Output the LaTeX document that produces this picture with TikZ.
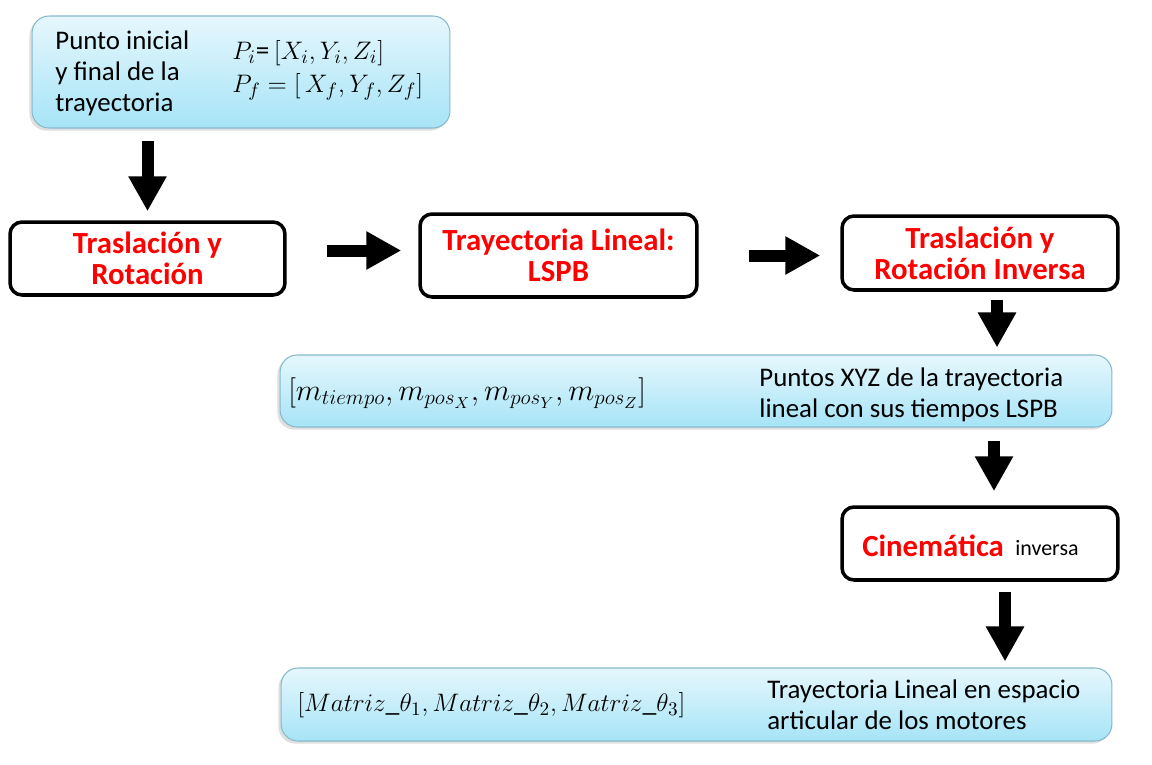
\documentclass[tikz,border=0pt]{standalone}
\usepackage{amsmath}
\usepackage{fontspec}
\setmainfont{Carlito}
\usetikzlibrary{arrows.meta,shadows,calc}

\definecolor{celeste}{HTML}{A6E4F7}
\definecolor{celesteclaro}{HTML}{E6F7FD}
\definecolor{bordeceleste}{HTML}{86B9CC}
\definecolor{rojo}{HTML}{FF0000}

\begin{document}
\begin{tikzpicture}[x=0.02cm,y=-0.02cm,
    datos/.style={rounded corners=0.34cm, draw=bordeceleste, line width=0.6pt,
        top color=celesteclaro, bottom color=celeste,
        drop shadow={shadow xshift=-1.5pt, shadow yshift=-1.5pt, opacity=0.25},
        inner sep=0pt},
    bloque/.style={rounded corners=0.24cm, draw=black, line width=2pt, fill=white,
        drop shadow={shadow xshift=1pt, shadow yshift=-1pt, opacity=0.15},
        inner sep=0pt},
    titulo/.style={text=rojo, font=\fontsize{17.5}{17.8}\selectfont\bfseries, align=center},
    texto/.style={font=\fontsize{15.3}{17.6}\selectfont, align=left, inner sep=0pt},
    formula/.style={font=\fontsize{15.5}{17.6}\selectfont, inner sep=0pt},
    flecha/.style={line width=0.24cm, -{Triangle[length=0.7cm,width=0.72cm]}}]

\useasboundingbox (0,0) rectangle (1152,764);

% Boxes
\node[datos, minimum width=8.36cm, minimum height=2.24cm] (inicio) at (241,72) {};
\node[bloque, minimum width=5.5cm, minimum height=1.46cm] (tras) at (147.5,258.5) {};
\node[bloque, minimum width=5.54cm, minimum height=1.66cm] (lineal) at (558.5,255.5) {};
\node[bloque, minimum width=5.52cm, minimum height=1.48cm] (inv) at (980,253) {};
\node[datos, minimum width=16.64cm, minimum height=1.44cm] (puntos) at (696,391) {};
\node[bloque, minimum width=5.52cm, minimum height=1.46cm] (cin) at (980,543.5) {};
\node[datos, minimum width=16.62cm, minimum height=1.46cm] (matriz) at (696.5,704.5) {};

% Labels
\node[texto, anchor=west] (inicioTxt) at (55,73) {Punto inicial\\y final de la\\trayectoria};
\node[formula, anchor=west] (pi) at (232,53) {$P_i$=\,$[X_i,Y_i,Z_i]$};
\node[formula, anchor=west] (pf) at (232,87) {$P_f=[\,X_f,Y_f,Z_f]$};

\node[titulo] (trasTxt) at (tras) {Traslación y\\Rotación};
\node[titulo] (linealTxt) at (lineal) {Trayectoria Lineal:\\LSPB};
\node[titulo] (invTxt) at (inv) {Traslación y\\Rotación Inversa};
\node[titulo, anchor=west, inner sep=0pt] (cinTxt) at (862,546) {Cinemática};
\node[texto, anchor=west, font=\fontsize{12.5}{14}\selectfont] (cinInv) at (1015,548) {inversa};

\node[formula, anchor=west, font=\fontsize{17.5}{18}\selectfont] (m) at (288,393)
    {$[m_{tiempo},m_{pos_X},m_{pos_Y},m_{pos_Z}]$};
\node[texto, anchor=west] (puntosTxt) at (759,395) {Puntos XYZ de la trayectoria\\lineal con sus tiempos LSPB};

\node[formula, anchor=west, font=\fontsize{15.8}{18}\selectfont] (th) at (297,705)
    {$[Matriz\text{\_}\theta_1,Matriz\text{\_}\theta_2,Matriz\text{\_}\theta_3]$};
\node[texto, anchor=west] (matrizTxt) at (767,705) {Trayectoria Lineal en espacio\\articular de los motores};

% Arrows
\draw[flecha, shorten <=0.24cm, shorten >=0.18cm]
    (inicio.south -| tras.north) -- (tras.north);
\draw[flecha, shorten <=0.8cm, shorten >=0.34cm]
    ($(tras.east)+(0,-8)$) -- ($(lineal.west |- tras.east)+(0,-8)$);
\draw[flecha, shorten <=1.0cm, shorten >=0.4cm]
    (lineal.east) -- (inv.west |- lineal.east);
\draw[flecha, shorten <=0.16cm, shorten >=0.14cm]
    ($(inv.south)+(17,0)$) -- ($(inv.south |- puntos.north)+(17,0)$);
\draw[flecha, shorten <=0.26cm, shorten >=0.28cm]
    ($(puntos.south -| cin.south)+(14,0)$) -- ($(cin.north)+(14,0)$);
\draw[flecha, shorten <=0.2cm, shorten >=0.12cm]
    ($(cin.south)+(25,0)$) -- ($(cin.south |- matriz.north)+(25,0)$);

\end{tikzpicture}
\end{document}
